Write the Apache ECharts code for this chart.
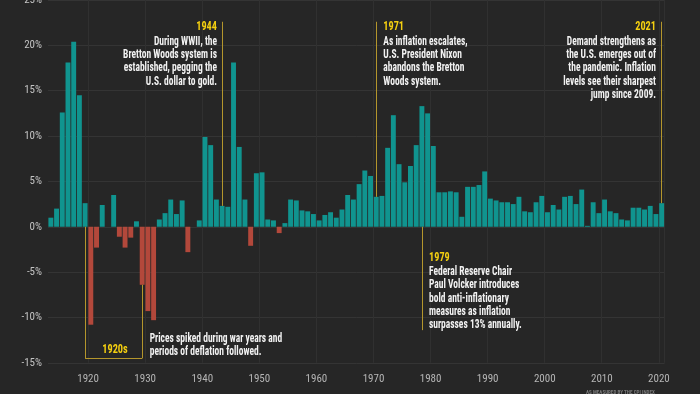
<!DOCTYPE html>
<html><head><meta charset="utf-8">
<script src="https://cdn.jsdelivr.net/npm/echarts@6/dist/echarts.min.js"></script>
<style>html,body{margin:0;padding:0;background:#262626}#main{width:700px;height:394px}</style>
</head><body><div id="main"></div>
<script>
// ---- data ----
const years = ['1914','1915','1916','1917','1918','1919',
'1920','1921','1922','1923','1924','1925','1926','1927','1928','1929',
'1930','1931','1932','1933','1934','1935','1936','1937','1938','1939',
'1940','1941','1942','1943','1944','1945','1946','1947','1948','1949',
'1950','1951','1952','1953','1954','1955','1956','1957','1958','1959',
'1960','1961','1962','1963','1964','1965','1966','1967','1968','1969',
'1970','1971','1972','1973','1974','1975','1976','1977','1978','1979',
'1980','1981','1982','1983','1984','1985','1986','1987','1988','1989',
'1990','1991','1992','1993','1994','1995','1996','1997','1998','1999',
'2000','2001','2002','2003','2004','2005','2006','2007','2008','2009',
'2010','2011','2012','2013','2014','2015','2016','2017','2018','2019',
'2020','2021'];
const inflation = [1.0,2.0,12.6,18.1,20.4,14.5,
2.6,-10.8,-2.3,2.4,0.0,3.5,-1.1,-2.3,-1.2,0.6,
-6.4,-9.3,-10.3,0.8,1.5,3.0,1.4,2.9,-2.8,0.0,
0.7,9.9,9.0,3.0,2.3,2.2,18.1,8.8,3.0,-2.1,
5.9,6.0,0.8,0.7,-0.7,0.4,3.0,2.9,1.8,1.7,
1.4,0.7,1.3,1.6,1.0,1.9,3.5,3.0,4.7,6.2,
5.6,3.3,3.4,8.7,12.3,6.9,4.9,6.7,9.0,13.3,
12.5,8.9,3.8,3.8,3.9,3.8,1.1,4.4,4.4,4.6,
6.1,3.1,2.9,2.7,2.7,2.5,3.3,1.7,1.6,2.7,
3.4,1.6,2.4,1.9,3.3,3.4,2.5,4.1,0.1,2.7,
1.5,3.0,1.7,1.5,0.8,0.7,2.1,2.1,1.9,2.3,
1.4,2.6];
const yTicks = {min: -15, max: 25, interval: 5};
// annotation leader lines: [year, from value, to value]
const leaders = [['1944', 2.3, 22.6], ['1971', 3.3, 22.6], ['2021', 2.6, 22.6], ['1979', 0, -11.4]];
const bracket = {from: '1920', to: '1930', bottom: -14.5, toTop: -6.4};

const TEAL = '#10948f', RED = '#b3483b', GOLD = '#b4962c', YEL = '#f4cf10';
const FONT = "'Roboto Condensed','Open Sans Condensed','DejaVu Sans Condensed',sans-serif";

const mlData = [];
leaders.forEach(l => mlData.push([{coord: [l[0], l[1]]}, {coord: [l[0], l[2]]}]));
mlData.push([{coord: [bracket.from, 0]}, {coord: [bracket.from, bracket.bottom]}]);
mlData.push([{coord: [bracket.from, bracket.bottom]}, {coord: [bracket.to, bracket.bottom]}]);
mlData.push([{coord: [bracket.to, bracket.toTop]}, {coord: [bracket.to, bracket.bottom]}]);
mlData.push([{yAxis: 0, lineStyle: {color: '#cfcfcf', width: 2}}, {yAxis: 0}]);

function txt(text, x, y, opt) {
  return {
    type: 'text', x: x, y: y, scaleX: 0.79, z: 100,
    style: Object.assign({text: text, fill: '#f2f2f2', font: 'bold 12px ' + FONT, align: 'left', verticalAlign: 'middle', lineHeight: 13.3}, opt || {})
  };
}

const chart = echarts.init(document.getElementById('main'), null, {renderer: 'canvas'});
chart.setOption({
  backgroundColor: '#262626',
  animation: false,
  grid: {left: 48, right: 35.5, top: 0, bottom: 31.2, containLabel: false, outerBoundsMode: 'none'},
  xAxis: {
    type: 'category', data: years,
    axisLine: {show: false}, axisTick: {show: false},
    axisLabel: {color: '#b5b5b5', fontFamily: FONT, fontSize: 11, margin: 11, padding: [0, 0, 0, 6],
      interval: (i, v) => (+v) % 10 === 0},
    splitLine: {show: true, lineStyle: {color: '#303030', width: 1},
      interval: (i, v) => ((+v) - 1) % 10 === 0}
  },
  yAxis: {
    type: 'value', min: yTicks.min, max: yTicks.max, interval: yTicks.interval,
    axisLabel: {color: '#c4c4c4', fontFamily: FONT, fontSize: 11, margin: 6, formatter: '{value}%'},
    axisLine: {show: false}, axisTick: {show: false},
    splitLine: {lineStyle: {color: '#343434', width: 1}}
  },
  series: [{
    type: 'bar', data: inflation, barCategoryGap: '14%',
    itemStyle: {color: p => p.value < 0 ? RED : TEAL},
    markLine: {silent: true, symbol: ['none', 'none'], label: {show: false},
      lineStyle: {color: GOLD, width: 1, type: 'solid'}, data: mlData, z: 5}
  }],
  graphic: [
    txt('1944', 217, 26.7, {align: 'right', fill: YEL, font: 'bold 13px ' + FONT}),
    txt('During WWII, the\nBretton Woods system is\nestablished, pegging the\nU.S. dollar to gold.', 217, 35, {align: 'right', verticalAlign: 'top'}),
    txt('1971', 383.3, 26.7, {fill: YEL, font: 'bold 13px ' + FONT}),
    txt('As inflation escalates,\nU.S. President Nixon\nabandons the Bretton\nWoods system.', 383.3, 35, {verticalAlign: 'top'}),
    txt('2021', 656, 26.7, {align: 'right', fill: YEL, font: 'bold 13px ' + FONT}),
    txt('Demand strengthens as\nthe U.S. emerges out of\nthe pandemic. Inflation\nlevels see their sharpest\njump since 2009.', 656, 35, {align: 'right', verticalAlign: 'top'}),
    txt('1979', 429, 257.7, {fill: YEL, font: 'bold 13px ' + FONT}),
    txt('Federal Reserve Chair\nPaul Volcker introduces\nbold anti-inflationary\nmeasures as inflation\nsurpasses 13% annually.', 429, 265.3, {verticalAlign: 'top'}),
    txt('1920s', 115, 349.5, {align: 'center', fill: YEL, font: 'bold 13px ' + FONT}),
    txt('Prices spiked during war years and\nperiods of deflation followed.', 149.7, 332.3, {verticalAlign: 'top'}),
    {type: 'text', x: 586, y: 389.5, z: 100, scaleX: 0.85,
      style: {text: 'AS MEASURED BY THE CPI INDEX', fill: '#7a7a7a', font: 'bold 6px ' + FONT, verticalAlign: 'top'}}
  ]
});
</script></body></html>
